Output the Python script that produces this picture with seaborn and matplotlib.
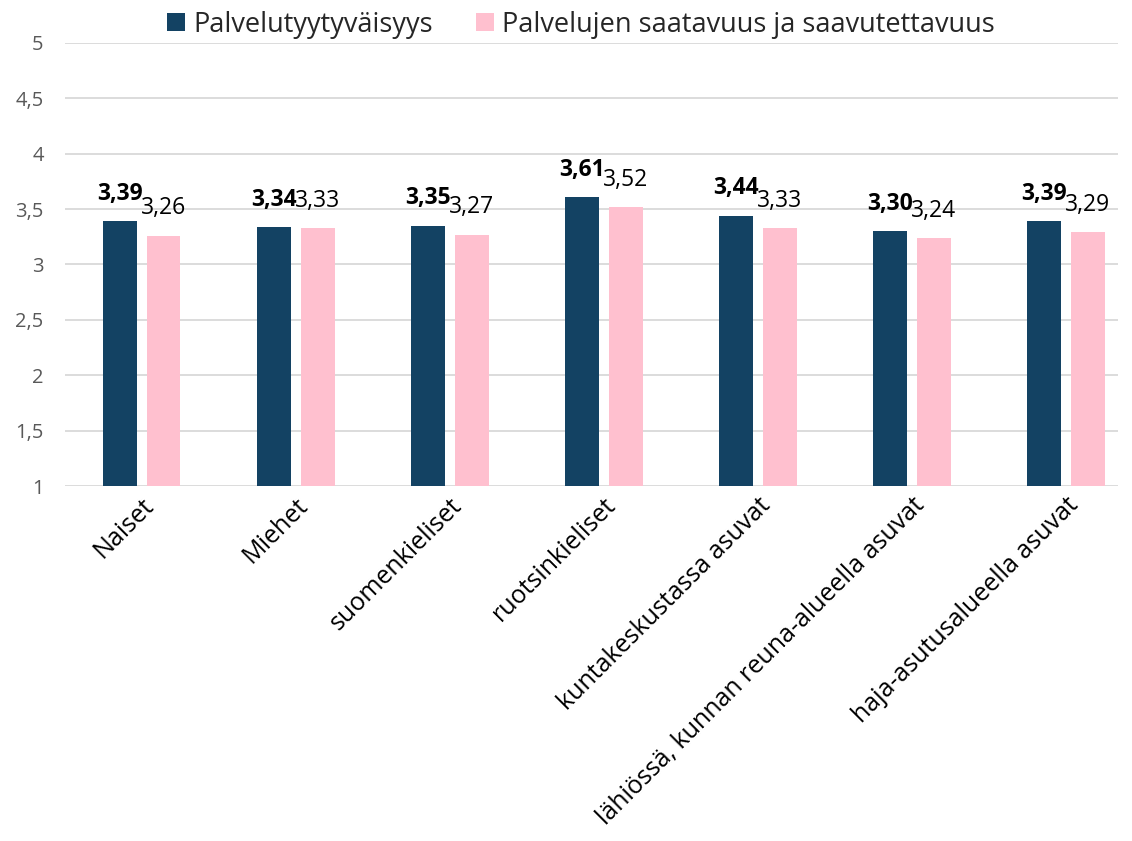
import pandas as pd
import seaborn as sns
import matplotlib.pyplot as plt

categories = ['Naiset', 'Miehet', 'suomenkieliset', 'ruotsinkieliset',
              'kuntakeskustassa asuvat', 'lähiössä, kunnan reuna-alueella asuvat',
              'haja-asutusalueella asuvat']
tyytyvaisyys = [3.39, 3.34, 3.35, 3.61, 3.44, 3.30, 3.39]
saatavuus = [3.26, 3.33, 3.27, 3.52, 3.33, 3.24, 3.29]
series = ['Palvelutyytyväisyys', 'Palvelujen saatavuus ja saavutettavuus']
colors = ['#134263', '#ffc0cf']

df = pd.DataFrame({
    'ryhma': categories * 2,
    'arvo': tyytyvaisyys + saatavuus,
    'sarja': [series[0]] * len(categories) + [series[1]] * len(categories),
})

sns.set_style('white')
plt.rcParams['font.family'] = ['Open Sans', 'DejaVu Sans']

fig, ax = plt.subplots(figsize=(11.32, 8.41), dpi=100)
fig.subplots_adjust(left=0.057, right=0.988, top=0.949, bottom=0.422)

sns.barplot(data=df, x='ryhma', y='arvo', hue='sarja', palette=colors,
            width=0.57, gap=0.23, ax=ax, saturation=1, edgecolor='none')

ax.set_xlim(-0.5, 6.34)
ax.set_ylim(1, 5)
ax.set_yticks([1, 1.5, 2, 2.5, 3, 3.5, 4, 4.5, 5])
ax.set_yticklabels([f'{v:g}'.replace('.', ',') for v in ax.get_yticks()],
                   color='#595959', fontsize=14.5)
ax.yaxis.grid(True, color='#d9d9d9', linewidth=1.3)
ax.set_axisbelow(True)
ax.tick_params(axis='y', length=0, pad=15)
ax.tick_params(axis='x', length=0, pad=5)
for s in ax.spines.values():
    s.set_visible(False)
ax.set_xlabel('')
ax.set_ylabel('')
plt.setp(ax.get_xticklabels(), rotation=45, ha='right', rotation_mode='anchor',
         fontsize=18, color='black')

# data labels
for i, cont in enumerate(ax.containers):
    labels = [f'{v:.2f}'.replace('.', ',') for v in cont.datavalues]
    if i == 0:
        ax.bar_label(cont, labels=labels, padding=11, fontsize=16.5,
                     fontweight='bold', color='black')
    else:
        ax.bar_label(cont, labels=labels, padding=11, fontsize=16.5,
                     color='black')

ax.legend(loc='lower center', bbox_to_anchor=(0.49, 0.985), ncol=2, frameon=False,
          fontsize=19.5, handlelength=0.65, handleheight=0.65, handletextpad=0.3,
          columnspacing=1.6, borderaxespad=0)

fig.savefig('out.png', dpi=100)
